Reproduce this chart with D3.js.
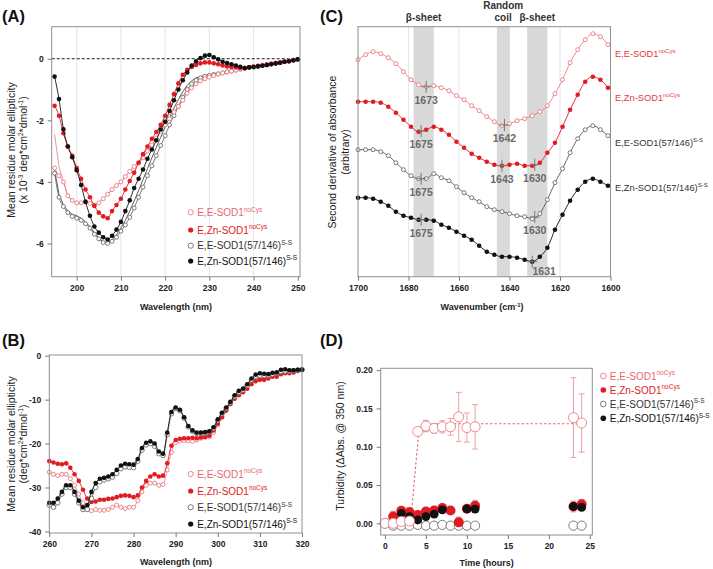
<!DOCTYPE html>
<html><head><meta charset="utf-8">
<script src="https://cdn.jsdelivr.net/npm/d3@7"></script>
<style>body{margin:0;background:#fff}svg{display:block}</style>
</head><body>
<svg id="c" width="713" height="569"></svg>
<script>
// ---------------- DATA ----------------
// Panel A: far-UV CD, 195-250 nm (x 10^-3)
const aWave = d3.range(195, 251);
const aTicksX = [200, 210, 220, 230, 240, 250];
const aTicksY = [0, -2, -4, -6];
const aEENoCys = [-3.55,-3.8,-4.0,-4.45,-4.6,-4.68,-4.68,-4.64,-4.7,-4.75,-4.68,-4.55,-4.4,-4.25,-4.12,-4.0,-3.83,-3.66,-3.5,-3.38,-3.22,-3.0,-2.8,-2.58,-2.36,-2.15,-1.95,-1.73,-1.55,-1.35,-1.12,-0.95,-0.82,-0.72,-0.65,-0.6,-0.55,-0.5,-0.46,-0.43,-0.4,-0.37,-0.34,-0.31,-0.28,-0.25,-0.23,-0.21,-0.19,-0.16,-0.14,-0.12,-0.09,-0.07,-0.05,-0.02];
const aEENoCysLead = [-2.45, -3.5]; // raw trace at 195, 196 nm
const aZnNoCys = [-1.53,-1.85,-2.42,-2.85,-3.15,-3.55,-3.9,-4.25,-4.5,-4.78,-5.0,-5.12,-5.18,-4.95,-4.75,-4.55,-4.25,-3.97,-3.7,-3.38,-3.1,-2.85,-2.6,-2.38,-2.15,-1.85,-1.5,-1.15,-0.8,-0.52,-0.36,-0.27,-0.2,-0.15,-0.12,-0.12,-0.15,-0.18,-0.22,-0.25,-0.27,-0.28,-0.3,-0.3,-0.28,-0.26,-0.24,-0.22,-0.2,-0.17,-0.15,-0.13,-0.1,-0.08,-0.05,-0.02];
const aEESS = [-3.72,-4.5,-4.8,-5.0,-5.12,-5.18,-5.25,-5.36,-5.5,-5.7,-5.85,-5.97,-6.0,-5.93,-5.8,-5.6,-5.4,-5.15,-4.85,-4.5,-4.17,-3.8,-3.48,-3.15,-2.82,-2.5,-2.15,-1.85,-1.55,-1.25,-1.0,-0.82,-0.7,-0.62,-0.57,-0.54,-0.51,-0.49,-0.46,-0.43,-0.4,-0.37,-0.34,-0.32,-0.29,-0.27,-0.24,-0.22,-0.2,-0.17,-0.15,-0.12,-0.1,-0.07,-0.05,-0.02];
const aEESSRaw = [-3.62,-4.4,-4.75,-4.95,-5.05,-5.1,-5.18,-5.3,-5.45,-5.65,-5.82,-5.95,-5.98,-5.88,-5.72,-5.5,-5.25,-4.95,-4.62,-4.28,-3.93,-3.57,-3.22,-2.88,-2.55,-2.22,-1.9,-1.6,-1.32,-1.07,-0.86,-0.72,-0.62,-0.58,-0.55,-0.52,-0.5,-0.48,-0.45,-0.42,-0.39,-0.36,-0.33,-0.31,-0.28,-0.26,-0.24,-0.22,-0.2,-0.17,-0.15,-0.12,-0.1,-0.07,-0.05,-0.02];
const aZnSS = [-0.58,-1.31,-2.29,-2.85,-3.2,-3.62,-4.1,-4.65,-5.1,-5.45,-5.65,-5.8,-5.87,-5.75,-5.55,-5.3,-4.95,-4.6,-4.2,-3.9,-3.6,-3.25,-2.95,-2.65,-2.3,-2.05,-1.7,-1.35,-1.0,-0.7,-0.45,-0.22,-0.08,0.02,0.1,0.12,0.05,-0.02,-0.1,-0.14,-0.18,-0.22,-0.26,-0.3,-0.28,-0.27,-0.25,-0.23,-0.2,-0.18,-0.15,-0.13,-0.1,-0.08,-0.05,-0.02];

// Panel B: near-UV CD, 260-320 nm
const bWave = d3.range(260, 321);
const bTicksX = [260, 270, 280, 290, 300, 310, 320];
const bTicksY = [0, -10, -20, -30, -40];
const bEENoCys = [-26.5,-27,-27.3,-27,-27,-28,-29.5,-31.5,-33.5,-35,-35.3,-35,-35.2,-35.2,-35,-34.5,-34,-34.5,-34.8,-34.5,-34.5,-33,-31,-29.5,-29,-29,-29.5,-29.3,-26,-22,-19.8,-19.4,-19.3,-19.4,-19.5,-19.2,-18.8,-18.6,-18.5,-17.5,-15.8,-14,-12.3,-10.8,-9.5,-8.5,-7.8,-6.8,-6,-5.2,-5,-5,-4.6,-4.3,-4.2,-3.8,-3.6,-3.5,-3.4,-3.3,-3.1];
const bZnNoCys = [-24,-24.3,-24.6,-24.7,-24.5,-25.5,-27,-28.5,-30.5,-32.5,-33.3,-33.2,-32.8,-32.8,-32.6,-32.5,-32.2,-31.9,-31.8,-31.9,-32.2,-31.8,-30,-28.5,-27.5,-27,-27.5,-27.3,-24.5,-20.5,-19.2,-18.9,-18.8,-18.8,-18.7,-18.8,-18.6,-18.5,-18.2,-17,-15.5,-14,-12.5,-11,-9.8,-9,-8.3,-7.5,-6.5,-5.8,-5.5,-5.5,-5.2,-4.8,-4.8,-4.2,-4,-4,-3.8,-3.5,-3.2];
const bEESS = [-34,-34.5,-33.5,-31.5,-30,-30,-31.5,-33.5,-35,-35,-32.5,-30,-28.7,-28.3,-28,-27.6,-26.8,-25.7,-25.3,-25.4,-25.5,-24,-21.5,-20.3,-20,-20.6,-22.3,-22.7,-18,-13.2,-12,-12.5,-14.2,-16.2,-17.2,-17.7,-17.7,-17.6,-17.3,-16.5,-14.8,-13.2,-12,-10.7,-9.3,-8.3,-7.8,-6.8,-5.5,-4.7,-4.5,-4.5,-4.5,-4.2,-4,-3.6,-3.5,-3.5,-3.4,-3.3,-3.2];
const bZnSS = [-33.5,-33.5,-32.5,-31,-29.5,-29.5,-31,-33,-34.5,-34,-31,-29,-28,-27.8,-27.5,-27,-26,-25,-24.6,-24.7,-24.8,-23.5,-21,-19.8,-19.5,-20,-21.8,-22.3,-17.5,-12.8,-11.8,-12.3,-14,-16,-17,-17.5,-17.5,-17.4,-17.2,-16.3,-14.5,-13,-11.8,-10.5,-9,-8,-7.5,-6.5,-5.2,-4.3,-4,-4.1,-4.2,-3.9,-3.8,-3.2,-3.1,-3.3,-3.3,-3.2,-3.2];

// Panel C: FTIR second derivative (arbitrary units, stacked)
const cWave = d3.range(1700, 1600, -3);
const cTicksX = [1700, 1680, 1660, 1640, 1620, 1600];
const cEENoCys = [21.7,22.2,22.5,22.3,21.9,21.3,20.5,19.7,19.2,19.0,19.1,18.9,18.6,18.1,17.7,17.1,16.6,16.0,15.5,15.1,15.3,15.6,15.8,16.1,16.5,17.1,18.3,19.7,21.4,22.7,23.7,24.3,24.0,23.2];
const cZnNoCys = [17.5,17.5,17.5,17.4,17.0,16.4,15.7,15.0,14.5,14.7,15.0,14.7,14.2,13.5,12.9,12.3,11.9,11.5,11.2,11.1,11.2,11.3,11.1,11.1,11.4,12.4,13.4,15.0,16.7,18.2,19.5,20.0,19.7,18.9];
const cEESS = [12.7,12.7,12.7,12.5,12.1,11.4,10.7,10.1,9.8,9.8,10.3,9.9,9.6,9.0,8.4,7.9,7.5,7.0,6.7,6.5,6.3,6.1,6.0,5.8,6.3,7.7,9.4,10.8,12.4,13.8,14.7,15.1,14.7,14.1];
const cZnSS = [7.9,7.9,7.8,7.5,7.1,6.5,6.1,5.9,5.7,5.7,5.6,5.2,4.9,4.5,4.1,3.7,3.1,2.5,2.2,2.0,2.0,1.9,1.7,1.5,2.0,2.9,4.7,6.2,7.6,8.7,9.5,9.8,9.5,9.1];
const cBandStart = [1678, 1645, 1633];
const cBandEnd = [1670, 1640, 1625];
const cBandLabels = [["β-sheet"], ["Random", "coil"], ["β-sheet"]];
const cPeakSeries = [0, 0, 1, 1, 1, 2, 2, 3, 3];
const cPeakWave = [1673, 1642, 1675, 1643, 1630, 1675, 1630, 1675, 1631];

// Panel D: turbidity
const dTime = [0, 1, 2, 3, 4, 5, 6, 7, 8, 9, 10, 11, 23, 24];
const dTicksX = [0, 5, 10, 15, 20, 25];
const dTicksY = [0, 0.05, 0.10, 0.15, 0.20];
const dEENoCys = [0.000, 0.000, 0.0025, 0.003, 0.120, 0.127, 0.124, 0.126, 0.126, 0.139, 0.125, 0.126, 0.138, 0.131];
const dEENoCysErr = [0, 0.002, 0.0095, 0.008, 0.005, 0.0075, 0.006, 0.008, 0.011, 0.032, 0.019, 0.029, 0.052, 0.038];
const dZnNoCys = [0.000, 0.0088, 0.0164, 0.0146, 0.011, 0.0155, 0.0168, 0.0199, 0.0168, 0.0013, 0.019, 0.023, 0.022, 0.025];
const dZnNoCysErr = [0, 0.007, 0.003, 0.006, 0.005, 0.002, 0.002, 0.003, 0.002, 0.007, 0.003, 0.007, 0.007, 0.006];
const dEESS = [0.000, -0.003, -0.003, -0.003, -0.002, -0.003, -0.003, -0.002, -0.003, -0.003, -0.003, -0.003, -0.003, -0.003];
const dZnSS = [0.000, null, 0.013, 0.0088, 0.0044, 0.0088, 0.012, 0.0177, null, null, 0.019, 0.0186, 0.022, 0.021];
const dFitTime = [0, 2, 3, 3.3, 3.7, 4.1, 4.5, 5, 24];
const dFitValue = [0, 0.001, 0.004, 0.02, 0.07, 0.115, 0.127, 0.13, 0.13];

const seriesNames = ["E,E-SOD1", "E,Zn-SOD1", "E,E-SOD1(57/146)", "E,Zn-SOD1(57/146)"];
const seriesSups = ["noCys", "noCys", "S-S", "S-S"];

// ---------------- STYLE ----------------
const FONT = '"Liberation Sans", Arial, Helvetica, sans-serif';
const COL = ["#ea7a80", "#e11b22", "#6d6d6d", "#111111"];
const TXT = ["#e8676d", "#e11b22", "#333333", "#111111"];
const FILLED = [false, true, false, true];
const svg = d3.select("#c").attr("font-family", FONT);

function frame(x0, x1, y0, y1) {
  svg.append("rect").attr("x", x0).attr("y", y0).attr("width", x1 - x0).attr("height", y1 - y0)
    .attr("fill", "none").attr("stroke", "#8f8f8f").attr("stroke-width", 1);
}
function styleAxis(g) {
  g.select(".domain").remove();
  g.selectAll(".tick line").attr("stroke", "#777");
  g.selectAll(".tick text").attr("font-size", 8.5).attr("font-weight", "bold").attr("fill", "#222").attr("font-family", FONT);
}
function label(x, y, txt, opts = {}) {
  const t = svg.append("text").attr("x", x).attr("y", y).text(txt)
    .attr("font-size", opts.size || 10).attr("font-weight", opts.weight || "normal")
    .attr("fill", opts.fill || "#222").attr("text-anchor", opts.anchor || "middle");
  if (opts.rotate) t.attr("transform", `rotate(-90,${x},${y})`);
  return t;
}
function marker(g, x, y, i, r) {
  g.append("circle").attr("cx", x).attr("cy", y).attr("r", r)
    .attr("fill", FILLED[i] ? COL[i] : "#fff").attr("stroke", COL[i]).attr("stroke-width", FILLED[i] ? 0 : 0.9);
}
function legend(x, ys, r) {
  ys.forEach((y, i) => {
    marker(svg, x, y, i, r);
    const t = svg.append("text").attr("x", x + 6.5).attr("y", y + 3.6).attr("font-size", 10).attr("fill", TXT[i]);
    t.append("tspan").text(seriesNames[i]);
    t.append("tspan").attr("font-size", 6.5).attr("dy", -4.2).text(seriesSups[i]);
  });
}
function curve(g, xs, ys, x, y, i, r, lw, every = 1) {
  const pts = xs.map((d, k) => [x(d), y(ys[k])]);
  g.append("path").attr("d", d3.line().curve(d3.curveMonotoneX)(pts)).attr("fill", "none")
    .attr("stroke", i === 2 ? "#555" : COL[i]).attr("stroke-width", lw);
  pts.forEach((p, k) => { if (k % every === 0) marker(g, p[0], p[1], i, r); });
}

// ---------------- PANEL A ----------------
{
  const x = d3.scaleLinear().domain([194.35, 250.5]).range([51.7, 300]);
  const y = d3.scaleLinear().domain([-7.08, 1.04]).range([276.7, 26.7]);
  const g = svg.append("g");
  aTicksX.slice(0, -1).forEach(t => g.append("line").attr("x1", x(t)).attr("x2", x(t)).attr("y1", y.range()[1]).attr("y2", y.range()[0]).attr("stroke", "#e2e5ee").attr("stroke-width", 1));
  g.append("line").attr("x1", x.range()[0]).attr("x2", x.range()[1]).attr("y1", y(0)).attr("y2", y(0)).attr("stroke", "#000").attr("stroke-dasharray", "3,2").attr("stroke-width", 0.9);
  g.append("path").attr("d", d3.line().x((d, k) => x(aWave[k])).y(d => y(d))(aEESSRaw)).attr("fill", "none").attr("stroke", "#333").attr("stroke-width", 0.8);
  const leadPts = aEENoCysLead.map((d, k) => [x(aWave[k]), y(d)]).concat(aEENoCys.slice(2).map((d, k) => [x(aWave[k + 2]), y(d)]));
  g.append("path").attr("d", d3.line()(leadPts)).attr("fill", "none").attr("stroke", COL[0]).attr("stroke-width", 0.8);
  curve(g, aWave, aEESS, x, y, 2, 2.0, 0.8);
  curve(g, aWave, aEENoCys, x, y, 0, 2.0, 0.8);
  curve(g, aWave, aZnNoCys, x, y, 1, 2.3, 0.9);
  curve(g, aWave, aZnSS, x, y, 3, 2.3, 0.9);
  frame(51.7, 300, 26.7, 276.7);
  styleAxis(svg.append("g").attr("transform", `translate(0,276.7)`).call(d3.axisBottom(x).tickValues(aTicksX).tickSize(4).tickPadding(4).tickFormat(d3.format("d"))));
  styleAxis(svg.append("g").attr("transform", `translate(51.7,0)`).call(d3.axisLeft(y).tickValues(aTicksY).tickSize(4).tickPadding(4).tickFormat(d => d)));
  legend(190.7, [212.3, 230, 245.7, 261], 2.6);
  label(176, 310, "Wavelength (nm)", { size: 9, weight: "bold" });
  label(15, 150, "Mean residue molar ellipticity", { size: 10.5, rotate: true });
  const t = label(27, 150, "(x 10", { size: 10.5, rotate: true });
  t.append("tspan").attr("dy", -4).attr("font-size", 6.5).text("-3");
  t.append("tspan").attr("dy", 4).text(" deg*cm");
  t.append("tspan").attr("dy", -4).attr("font-size", 6.5).text("2");
  t.append("tspan").attr("dy", 4).text("*dmol");
  t.append("tspan").attr("dy", -4).attr("font-size", 6.5).text("-1");
  t.append("tspan").attr("dy", 4).text(")");
  label(2, 22, "(A)", { size: 16.5, weight: "bold", anchor: "start", fill: "#111" });
}

// ---------------- PANEL B ----------------
{
  const x = d3.scaleLinear().domain([260, 320]).range([49.3, 302]);
  const y = d3.scaleLinear().domain([-40.36, 0.16]).range([533, 355]);
  const g = svg.append("g");
  curve(g, bWave, bEENoCys, x, y, 0, 2.0, 0.8);
  curve(g, bWave, bZnNoCys, x, y, 1, 2.3, 0.9);
  curve(g, bWave, bEESS, x, y, 2, 2.3, 0.8);
  curve(g, bWave, bZnSS, x, y, 3, 2.3, 0.9);
  frame(49.3, 302, 355, 533);
  styleAxis(svg.append("g").attr("transform", `translate(0,533)`).call(d3.axisBottom(x).tickValues(bTicksX).tickSize(4).tickPadding(4).tickFormat(d3.format("d"))));
  styleAxis(svg.append("g").attr("transform", `translate(49.3,0)`).call(d3.axisLeft(y).tickValues(bTicksY).tickSize(4).tickPadding(4).tickFormat(d => d)));
  legend(190.7, [474, 491, 507.3, 524], 2.6);
  label(176, 565, "Wavelength (nm)", { size: 9, weight: "bold" });
  label(15, 444, "Mean residue molar ellipticity", { size: 10.5, rotate: true });
  const t = label(27, 444, "(deg*cm", { size: 10.5, rotate: true });
  t.append("tspan").attr("dy", -4).attr("font-size", 6.5).text("2");
  t.append("tspan").attr("dy", 4).text("*dmol");
  t.append("tspan").attr("dy", -4).attr("font-size", 6.5).text("-1");
  t.append("tspan").attr("dy", 4).text(")");
  label(2, 346, "(B)", { size: 16.5, weight: "bold", anchor: "start", fill: "#111" });
}

// ---------------- PANEL C ----------------
{
  const x = d3.scaleLinear().domain([1700, 1600]).range([358, 610.5]);
  const y = d3.scaleLinear().domain([0, 25]).range([276.7, 26.7]);
  const g = svg.append("g");
  cTicksX.slice(1, -1).forEach(t => g.append("line").attr("x1", x(t)).attr("x2", x(t)).attr("y1", 26.7).attr("y2", 276.7).attr("stroke", "#e2e5ee"));
  cBandStart.forEach((s, k) => {
    g.append("rect").attr("x", x(s)).attr("width", x(cBandEnd[k]) - x(s)).attr("y", 26.7).attr("height", 250).attr("fill", "#d9d9d9");
    const cx = x((s + cBandEnd[k]) / 2);
    const lines = cBandLabels[k];
    lines.forEach((l, j) => label(cx, 20.5 - (lines.length - 1 - j) * 11.5, l, { size: 10, weight: "bold", fill: "#333" }));
  });
  const sets = [cEENoCys, cZnNoCys, cEESS, cZnSS];
  sets.forEach((s, i) => curve(g, cWave, s, x, y, i, FILLED[i] ? 2.3 : 2.0, 0.9));
  cPeakSeries.forEach((si, k) => {
    const w = cPeakWave[k];
    const v = d3.scaleLinear().domain(cWave).range(sets[si])(w);
    const px = x(w), py = y(v);
    g.append("line").attr("x1", px - 5).attr("x2", px + 5).attr("y1", py).attr("y2", py).attr("stroke", "#777");
    g.append("line").attr("x1", px).attr("x2", px).attr("y1", py - 6).attr("y2", py + 6).attr("stroke", "#777");
    const dx = k === cPeakSeries.length - 1 ? 12 : 0;
    const dy = k === cPeakSeries.length - 1 ? 13 : 17;
    label(px + dx, py + dy, String(w), { size: 10.5, weight: "bold", fill: "#6a6a6a" });
  });
  frame(358, 610.5, 26.7, 276.7);
  styleAxis(svg.append("g").attr("transform", `translate(0,276.7)`).call(d3.axisBottom(x).tickValues(cTicksX).tickSize(4).tickPadding(4).tickFormat(d3.format("d"))));
  [53, 97, 142, 187].forEach((yy, i) => {
    const t = svg.append("text").attr("x", 615).attr("y", yy + 3.5).attr("font-size", 9.3).attr("fill", i < 2 ? "#e4393f" : "#333");
    t.append("tspan").text(seriesNames[i]);
    t.append("tspan").attr("font-size", 6).attr("dy", -4).text(seriesSups[i]);
  });
  const xt = label(482, 310, "Wavenumber (cm", { size: 9, weight: "bold" });
  xt.append("tspan").attr("dy", -3.5).attr("font-size", 6).text("-1");
  xt.append("tspan").attr("dy", 3.5).text(")");
  label(336, 152, "Second derivative of absorbance", { size: 10.5, rotate: true });
  label(349, 152, "(arbitrary)", { size: 10.5, rotate: true });
  label(320, 22, "(C)", { size: 16.5, weight: "bold", anchor: "start", fill: "#111" });
}

// ---------------- PANEL D ----------------
{
  const x = d3.scaleLinear().domain([-0.52, 25.3]).range([380.7, 592.3]);
  const y = d3.scaleLinear().domain([-0.0152, 0.2024]).range([535, 368.3]);
  const g = svg.append("g");
  g.append("path").attr("d", d3.line().x((d, k) => x(dFitTime[k])).y(d => y(d))(dFitValue))
    .attr("fill", "none").attr("stroke", "#e8676d").attr("stroke-width", 1.1).attr("stroke-dasharray", "2.5,2");
  const errBars = (vals, errs, color) => vals.forEach((v, k) => {
    if (v == null || !errs[k]) return;
    const px = x(dTime[k]);
    g.append("line").attr("x1", px).attr("x2", px).attr("y1", y(v - errs[k])).attr("y2", y(v + errs[k])).attr("stroke", color).attr("stroke-width", 1);
    [v - errs[k], v + errs[k]].forEach(e => g.append("line").attr("x1", px - 3).attr("x2", px + 3).attr("y1", y(e)).attr("y2", y(e)).attr("stroke", color).attr("stroke-width", 1));
  });
  errBars(dEENoCys, dEENoCysErr, "#eda0a4");
  errBars(dZnNoCys, dZnNoCysErr, "#f09296");
  const dots = (vals, i, r) => vals.forEach((v, k) => { if (v != null) marker(g, x(dTime[k]), y(v), i, r); });
  dots(dEESS, 2, 4.6);
  dots(dZnNoCys, 1, 5);
  dots(dZnSS, 3, 4.4);
  dots(dEENoCys, 0, 5);
  frame(380.7, 592.3, 368.3, 535);
  styleAxis(svg.append("g").attr("transform", `translate(0,535)`).call(d3.axisBottom(x).tickValues(dTicksX).tickSize(4).tickPadding(4).tickFormat(d3.format("d"))));
  styleAxis(svg.append("g").attr("transform", `translate(380.7,0)`).call(d3.axisLeft(y).tickValues(dTicksY).tickSize(4).tickPadding(4).tickFormat(d3.format(".2f"))));
  legend(603.3, [376, 390, 404, 418.3], 2.8);
  label(486.7, 566, "Time (hours)", { size: 9, weight: "bold" });
  label(344, 446, "Turbidity (ΔAbs. @ 350 nm)", { size: 10.5, rotate: true });
  label(320, 346, "(D)", { size: 16.5, weight: "bold", anchor: "start", fill: "#111" });
}
</script>
</body></html>
